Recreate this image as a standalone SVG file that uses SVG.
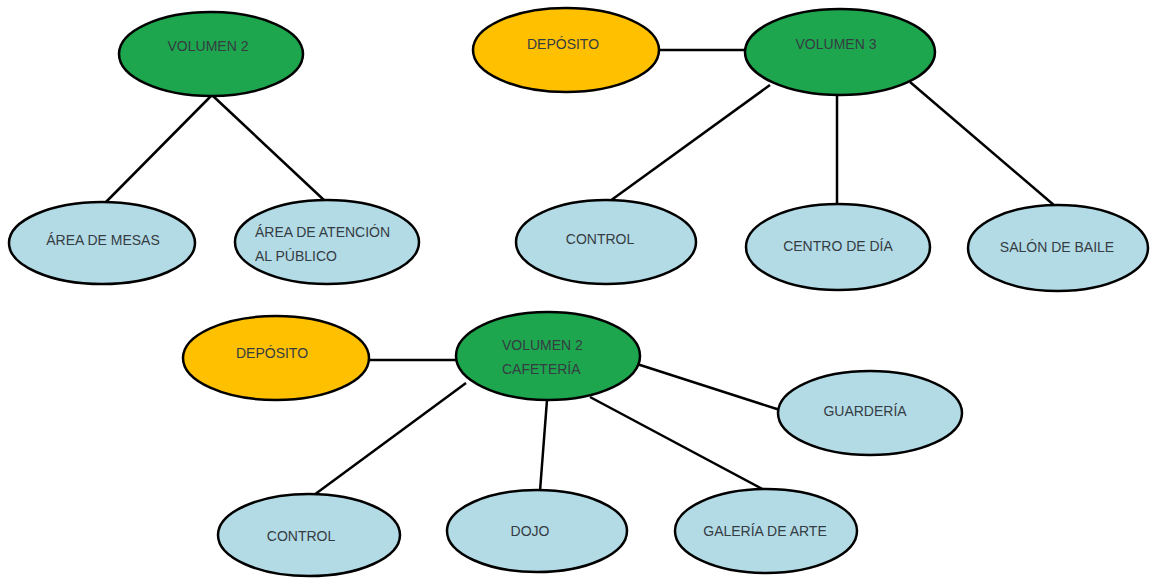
<svg xmlns="http://www.w3.org/2000/svg" width="1152" height="579" viewBox="0 0 1152 579">
<style>
.n{stroke:#000;stroke-width:2.5}
.g{fill:#1da64e}
.y{fill:#ffc000}
.b{fill:#b3dbe6}
.e{stroke:#000;stroke-width:2.5;fill:none}
text{font-family:"Liberation Sans",Arial,sans-serif;font-size:14px;fill:#353c42}
.c{text-anchor:middle}
</style>
<rect width="1152" height="579" fill="#fff"/>
<g id="connectors">
<line class="e" x1="211" y1="96" x2="105" y2="203"/>
<line class="e" x1="213" y1="96" x2="325" y2="201"/>
<line class="e" x1="659" y1="50" x2="746" y2="50"/>
<line class="e" x1="770" y1="85" x2="610" y2="201"/>
<line class="e" x1="837" y1="95" x2="837" y2="205"/>
<line class="e" x1="910" y1="82" x2="1055" y2="206"/>
<line class="e" x1="369" y1="360" x2="458" y2="360"/>
<line class="e" x1="466" y1="383" x2="314" y2="495"/>
<line class="e" x1="547" y1="400" x2="540" y2="491"/>
<line class="e" x1="590" y1="397" x2="768" y2="492"/>
<line class="e" x1="637" y1="364" x2="780" y2="410"/>
</g>
<g id="volumen2-top"><ellipse class="n g" cx="211" cy="54" rx="92" ry="42"/><text class="c" x="208" y="51">VOLUMEN 2</text></g>
<g id="area-mesas"><ellipse class="n b" cx="102" cy="243" rx="93" ry="41"/><text class="c" x="103" y="245">ÁREA DE MESAS</text></g>
<g id="area-atencion"><ellipse class="n b" cx="327" cy="242" rx="92" ry="42"/><text x="255" y="237">ÁREA DE ATENCIÓN</text><text x="255" y="261">AL PÚBLICO</text></g>
<g id="deposito-top"><ellipse class="n y" cx="566" cy="50" rx="93" ry="42"/><text class="c" x="563" y="49">DEPÓSITO</text></g>
<g id="volumen3"><ellipse class="n g" cx="840" cy="52" rx="95" ry="43"/><text class="c" x="836" y="49">VOLUMEN 3</text></g>
<g id="control-top"><ellipse class="n b" cx="606" cy="242" rx="90" ry="42"/><text class="c" x="600" y="244">CONTROL</text></g>
<g id="centro-dia"><ellipse class="n b" cx="838" cy="247" rx="92" ry="43"/><text class="c" x="838" y="251">CENTRO DE DÍA</text></g>
<g id="salon-baile"><ellipse class="n b" cx="1058" cy="248" rx="90" ry="43"/><text class="c" x="1057" y="252">SALÓN DE BAILE</text></g>
<g id="deposito-bottom"><ellipse class="n y" cx="276" cy="358" rx="93" ry="42"/><text class="c" x="272" y="358">DEPÓSITO</text></g>
<g id="volumen2-cafeteria"><ellipse class="n g" cx="548" cy="356" rx="92" ry="44"/><text x="502" y="350">VOLUMEN 2</text><text x="502" y="374">CAFETERÍA</text></g>
<g id="guarderia"><ellipse class="n b" cx="870" cy="413" rx="92" ry="42"/><text class="c" x="865" y="416">GUARDERÍA</text></g>
<g id="control-bottom"><ellipse class="n b" cx="309" cy="535" rx="91" ry="41"/><text class="c" x="301" y="541">CONTROL</text></g>
<g id="dojo"><ellipse class="n b" cx="537" cy="531" rx="90" ry="41"/><text class="c" x="530" y="536">DOJO</text></g>
<g id="galeria-arte"><ellipse class="n b" cx="766" cy="531" rx="91" ry="42"/><text class="c" x="765" y="536">GALERÍA DE ARTE</text></g>
</svg>
